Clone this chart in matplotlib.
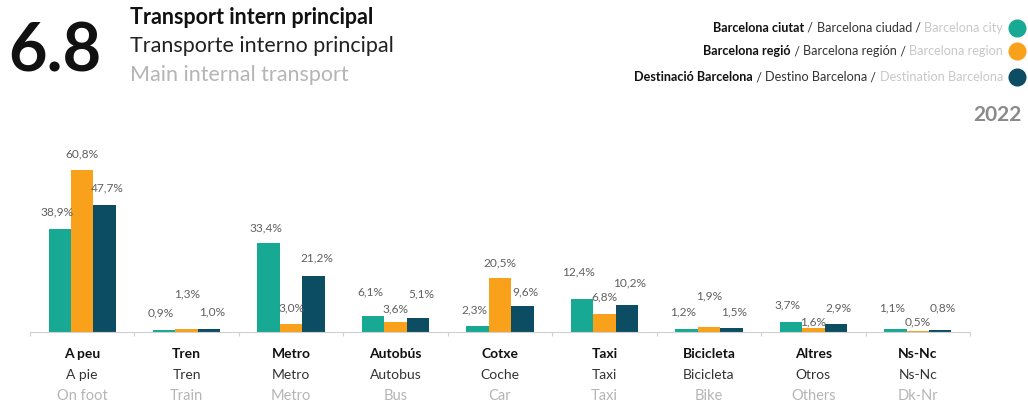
import matplotlib.pyplot as plt
import numpy as np

plt.rcParams["font.family"] = ["Lato", "DejaVu Sans"]

cat_ca = ["A peu", "Tren", "Metro", "Autobús", "Cotxe", "Taxi", "Bicicleta", "Altres", "Ns-Nc"]
cat_es = ["A pie", "Tren", "Metro", "Autobus", "Coche", "Taxi", "Bicicleta", "Otros", "Ns-Nc"]
cat_en = ["On foot", "Train", "Metro", "Bus", "Car", "Taxi", "Bike", "Others", "Dk-Nr"]

city = [38.9, 0.9, 33.4, 6.1, 2.3, 12.4, 1.2, 3.7, 1.1]
region = [60.8, 1.3, 3.0, 3.6, 20.5, 6.8, 1.9, 1.6, 0.5]
destination = [47.7, 1.0, 21.2, 5.1, 9.6, 10.2, 1.5, 2.9, 0.8]

# label lift above each bar (pixels), as placed in the original to avoid overlaps
lift_city = [17, 17, 15, 24, 16, 27, 17, 17, 21]
lift_region = [17, 35, 16, 14, 15, 17, 31, 6, 9]
lift_dest = [17, 17, 18, 25, 15, 22, 16, 16, 22]

series = [
    (city, lift_city, -3, "#17a993", ("Barcelona ciutat", "Barcelona ciudad", "Barcelona city")),
    (region, lift_region, 0, "#f9a11b", ("Barcelona regió", "Barcelona región", "Barcelona region")),
    (destination, lift_dest, 3, "#0d4d63",
     ("Destinació Barcelona", "Destino Barcelona", "Destination Barcelona")),
]

W, H = 1028, 405
fig = plt.figure(figsize=(W / 100, H / 100), dpi=100)


def px(x0, y0, x1, y1):
    return [x0 / W, 1 - y1 / H, (x1 - x0) / W, (y1 - y0) / H]


ax = fig.add_axes(px(30, 146, 970, 332))
x = np.arange(len(cat_ca))
bw = 0.215
for i, (vals, lifts, dx, color, _) in enumerate(series):
    pos = x + (i - 1) * bw
    ax.bar(pos, vals, width=bw, color=color, zorder=2)
    for p, v, lift in zip(pos, vals, lifts):
        ax.annotate(f"{v:.1f}%".replace(".", ","), (p, v), xytext=(dx, lift),
                    textcoords="offset pixels", ha="center", va="center",
                    fontsize=8.6, color="#606060", zorder=3)

ax.set_xlim(-0.5, len(cat_ca) - 0.5)
ax.set_ylim(0, 70)
ax.set_yticks([])
ax.set_xticks(np.arange(len(cat_ca) + 1) - 0.5)
ax.set_xticklabels([])
ax.tick_params(axis="x", length=3, color="#d0d0d0")
for s in ["top", "right", "left"]:
    ax.spines[s].set_visible(False)
ax.spines["bottom"].set_color("#d0d0d0")

for i in range(len(cat_ca)):
    ax.annotate(cat_ca[i], (i, 0), xytext=(0, -22), textcoords="offset pixels",
                ha="center", va="center", fontsize=10, fontweight="bold", color="#111111")
    ax.annotate(cat_es[i], (i, 0), xytext=(0, -43), textcoords="offset pixels",
                ha="center", va="center", fontsize=10, color="#333333")
    ax.annotate(cat_en[i], (i, 0), xytext=(0, -64), textcoords="offset pixels",
                ha="center", va="center", fontsize=10.5, color="#b5b5b5")

# Header
fig.text(8 / W, 1 - 52 / H, "6.8", fontsize=48, fontweight="bold", color="#111111",
         ha="left", va="center")
fig.text(130 / W, 1 - 18 / H, "Transport intern principal", fontsize=15.5, fontweight="bold",
         color="#111111", ha="left", va="center")
fig.text(130 / W, 1 - 46 / H, "Transporte interno principal", fontsize=15.5,
         color="#222222", ha="left", va="center")
fig.text(130 / W, 1 - 75 / H, "Main internal transport", fontsize=15.5,
         color="#b5b5b5", ha="left", va="center")

# Legend
renderer = fig.canvas.get_renderer()
legend_y = [28, 51, 77]
for (vals, lifts, dx, color, names), ly in zip(series, legend_y):
    yf = 1 - ly / H
    fig.add_artist(plt.Line2D([1017 / W], [yf], marker="o", markersize=12,
                              color=color, transform=fig.transFigure))
    right = 1003
    parts = [
        (names[2], "#c8c8c8", "normal"),
        (" / ", "#333333", "normal"),
        (names[1], "#333333", "normal"),
        (" / ", "#333333", "normal"),
        (names[0], "#111111", "bold"),
    ]
    for txt, c, w in parts:
        t = fig.text(right / W, yf, txt, fontsize=9.1, color=c, fontweight=w,
                     ha="right", va="center")
        bb = t.get_window_extent(renderer)
        right -= bb.width

fig.text(1022 / W, 1 - 115 / H, "2022", fontsize=15, fontweight="bold", color="#8a8a8a",
         ha="right", va="center")

fig.savefig("out.png", dpi=100)
